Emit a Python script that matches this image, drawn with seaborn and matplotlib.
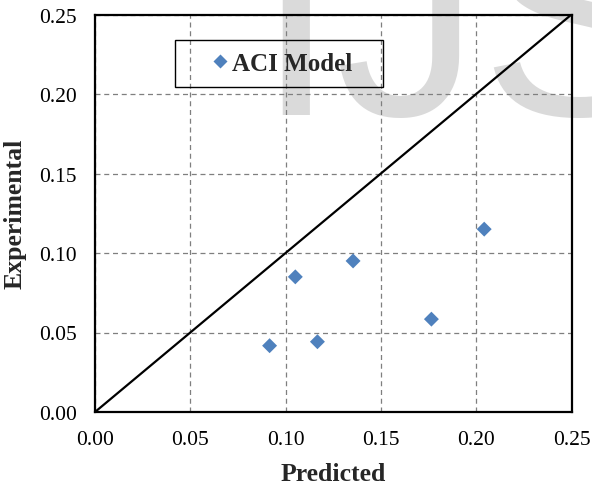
import matplotlib
matplotlib.use("Agg")
import matplotlib.pyplot as plt
import matplotlib.patches as mpatches
import seaborn as sns
import pandas as pd

predicted = [0.0916, 0.1051, 0.1167, 0.1354, 0.1765, 0.2042]
experimental = [0.0417, 0.0850, 0.0442, 0.0950, 0.0584, 0.1150]
ticks = [0.00, 0.05, 0.10, 0.15, 0.20, 0.25]
series_name = "ACI Model"

df = pd.DataFrame({"Predicted": predicted, "Experimental": experimental,
                   "Series": [series_name] * len(predicted)})

sns.set_style("white")
plt.rcParams["font.family"] = ["Liberation Serif", "DejaVu Serif"]

W, H = 592, 489
fig = plt.figure(figsize=(W/100, H/100), dpi=100)
fig.patch.set_facecolor("white")
ax = fig.add_axes([95/W, 1-413/H, (571.5-95)/W, (413-15.5)/H])
ax.set_facecolor("none")

# watermark
fig.text(255/W, 1-115/H, "IJS", fontsize=209, color="#dadada",
         family="Liberation Sans", va="baseline", ha="left", zorder=-10)

ax.grid(True, color="#7f7f7f", linestyle=(0, (4, 3)), linewidth=0.9)
ax.set_axisbelow(True)

ax.plot([0, 0.25], [0, 0.25], color="black", linewidth=1.6, zorder=2)
sns.scatterplot(data=df, x="Predicted", y="Experimental", hue="Series",
                palette=["#4F81BD"], marker="D", s=58, edgecolor="none",
                ax=ax, zorder=3)

ax.set_xlim(0, 0.25)
ax.set_ylim(0, 0.25)
ax.set_xticks(ticks)
ax.set_yticks(ticks)
ax.set_xticklabels([f"{t:.2f}" for t in ticks])
ax.set_yticklabels([f"{t:.2f}" for t in ticks])
ax.tick_params(direction="in", length=4, width=1.5, labelsize=15.5,
               colors="black")
ax.tick_params(axis="x", pad=13)
ax.tick_params(axis="y", pad=13)
for sp in ax.spines.values():
    sp.set_color("black")
    sp.set_linewidth(1.6)

ax.set_xlabel("Predicted", fontsize=18.5, fontweight="bold", labelpad=9)
ax.set_ylabel("Experimental", fontsize=18.5, fontweight="bold", labelpad=9)

leg = ax.legend(loc="center left",
                bbox_to_anchor=(205/W, 1-64.5/H), bbox_transform=fig.transFigure,
                frameon=False, prop={"weight": "bold", "size": 18},
                handletextpad=-0.1, borderpad=0, borderaxespad=0,
                markerscale=1.0, handlelength=1.2)
fig.patches.append(mpatches.Rectangle((175/W, 1-88/H), 208/W, 47/H,
                                      transform=fig.transFigure, fill=False,
                                      edgecolor="black", linewidth=1.0,
                                      zorder=5))

fig.savefig("out.png", dpi=100)
